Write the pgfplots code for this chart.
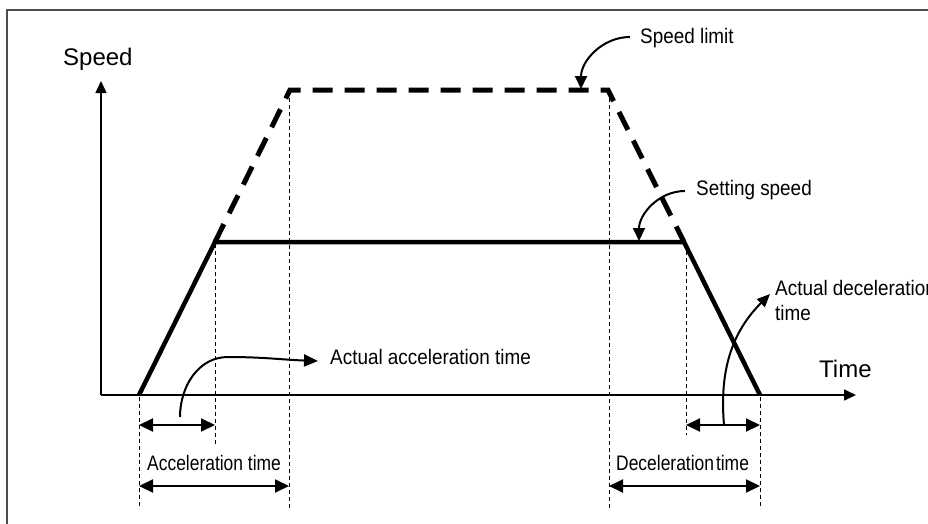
\documentclass[border=0pt]{standalone}
\usepackage{pgfplots}
\pgfplotsset{compat=1.18}
\usetikzlibrary{arrows.meta}
\usepackage{fontspec}
\setmainfont{Liberation Sans}
\newfontfamily\narrowfont[FakeStretch=0.9]{Liberation Sans}
\newfontfamily\narrowerfont[FakeStretch=0.83]{Liberation Sans}
\begin{document}
\begin{tikzpicture}
\begin{axis}[
  width=928pt, height=524pt, scale only axis,
  xmin=0, xmax=928, ymin=0, ymax=524, y dir=reverse,
  hide axis, clip=false,
]
% frame (cropped)
\draw[line width=2pt, black!70] (7,540) -- (7,10) -- (940,10);
% axes
\addplot[line width=1.5pt, -{Triangle[length=12pt,width=11pt]}] coordinates {(101,395) (101,81)};
\addplot[line width=1.5pt, -{Triangle[length=12pt,width=11pt]}] coordinates {(101,395) (856,395)};
% speed limit (dashed)
\addplot[line width=5pt, dash pattern=on 20pt off 12pt] coordinates {(215,242) (290,90) (608,90) (684,242)};
% setting speed (solid)
\addplot[line width=4.5pt, line join=miter] coordinates {(139,395) (215,242) (684,242) (760,395)};
% thin dashed guides
\addplot[line width=1pt, dash pattern=on 4pt off 3pt] coordinates {(139,397) (139,509)};
\addplot[line width=1pt, dash pattern=on 4pt off 3pt] coordinates {(215,244) (215,445)};
\addplot[line width=1pt, dash pattern=on 4pt off 3pt] coordinates {(289,98) (289,509)};
\addplot[line width=1pt, dash pattern=on 4pt off 3pt] coordinates {(609,98) (609,509)};
\addplot[line width=1pt, dash pattern=on 4pt off 3pt] coordinates {(686,244) (686,435)};
\addplot[line width=1pt, dash pattern=on 4pt off 3pt] coordinates {(760,397) (760,509)};
% double arrows
\addplot[line width=2pt, {Triangle[length=14pt,width=13pt]}-{Triangle[length=14pt,width=13pt]}] coordinates {(139,425) (215,425)};
\addplot[line width=2pt, {Triangle[length=14pt,width=13pt]}-{Triangle[length=14pt,width=13pt]}] coordinates {(139,486) (289,486)};
\addplot[line width=2pt, {Triangle[length=14pt,width=13pt]}-{Triangle[length=14pt,width=13pt]}] coordinates {(686,425) (760,425)};
\addplot[line width=2pt, {Triangle[length=14pt,width=13pt]}-{Triangle[length=14pt,width=13pt]}] coordinates {(609,486) (760,486)};
% curved annotation arrows
\draw[line width=2pt, -{Triangle[length=14pt,width=12pt]}] (axis cs:180,417) to[out=90,in=180] (axis cs:228,357) to[out=0,in=178] (axis cs:318,361);
\draw[line width=2pt, -{Triangle[length=13pt,width=11pt]}] (axis cs:724,425) to[out=95,in=225] (axis cs:770,294);
\draw[line width=2pt, -{Triangle[length=13pt,width=12pt]}] (axis cs:630,37) to[out=180,in=90] (axis cs:581,89);
\draw[line width=2pt, -{Triangle[length=13pt,width=12pt]}] (axis cs:685,191) to[out=180,in=90] (axis cs:639,241);
% texts
\node[anchor=base west, inner sep=0, font=\fontsize{24}{28}\selectfont] at (axis cs:63,65) {Speed};
\node[anchor=base west, inner sep=0, font=\fontsize{24}{28}\selectfont] at (axis cs:819,377) {Time};
\node[anchor=base west, inner sep=0, font=\narrowfont\fontsize{21}{25}\selectfont] at (axis cs:640,44) {Speed limit};
\node[anchor=base west, inner sep=0, font=\narrowfont\fontsize{21}{25}\selectfont] at (axis cs:696,195) {Setting speed};
\node[anchor=base west, inner sep=0, font=\narrowfont\fontsize{21}{25}\selectfont] at (axis cs:330,364) {Actual acceleration time};
\node[anchor=base west, inner sep=0, font=\narrowfont\fontsize{21}{25}\selectfont] at (axis cs:775,295) {Actual deceleration};
\node[anchor=base west, inner sep=0, font=\narrowfont\fontsize{21}{25}\selectfont] at (axis cs:775,320) {time};
\node[anchor=base west, inner sep=0, font=\narrowerfont\fontsize{21}{25}\selectfont] at (axis cs:147,470) {Acceleration time};
\node[anchor=base west, inner sep=0, font=\narrowerfont\fontsize{21}{25}\selectfont] at (axis cs:616,470) {Deceleration\hspace{2pt}time};
\end{axis}
\pgfresetboundingbox
\path (0,0) rectangle (928pt,524pt);
\end{tikzpicture}
\end{document}
